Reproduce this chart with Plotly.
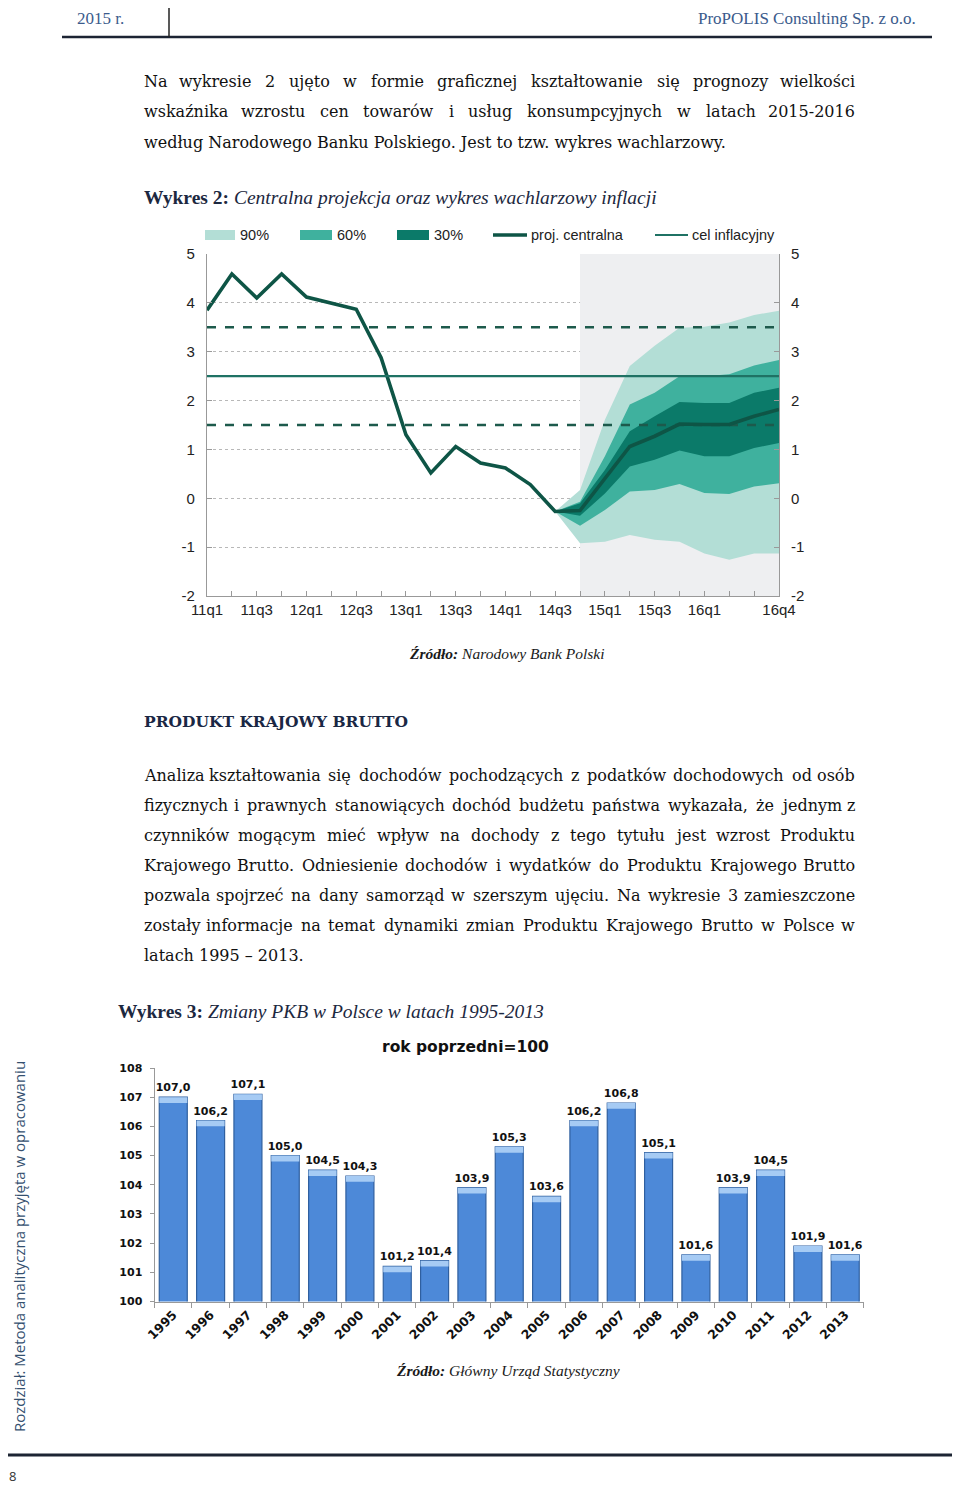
import plotly.graph_objects as go

W, H = 960, 1487
OFF = 8  # the page body margin shifts the figure; compensate


def px(x):
    return (x - OFF) / W


def py(y):
    return 1 - (y - OFF) / H


# ---------------- Data: fan chart (NBP inflation projection) ----------------
quarters = ["11q1", "11q2", "11q3", "11q4", "12q1", "12q2", "12q3", "12q4",
            "13q1", "13q2", "13q3", "13q4", "14q1", "14q2", "14q3", "14q4",
            "15q1", "15q2", "15q3", "15q4", "16q1", "16q2", "16q3", "16q4"]
fan_tick_labels = ["11q1", "11q3", "12q1", "12q3", "13q1", "13q3", "14q1",
                   "14q3", "15q1", "15q3", "16q1", "16q4"]
fan_y_ticks = [-2, -1, 0, 1, 2, 3, 4, 5]
central = [3.85, 4.59, 4.10, 4.59, 4.12, 3.99, 3.87, 2.88,
           1.30, 0.52, 1.06, 0.72, 0.62, 0.28, -0.27, -0.25,
           0.41, 1.06, 1.27, 1.52, 1.51, 1.51, 1.68, 1.82]
fan_start = "14q3"
proj_start = "14q4"
fan90_hi = [-0.27, 0.17, 1.61, 2.71, 3.12, 3.49, 3.51, 3.60, 3.75, 3.84]
fan90_lo = [-0.27, -0.92, -0.89, -0.75, -0.85, -0.89, -1.13, -1.26, -1.13, -1.13]
fan60_hi = [-0.27, -0.07, 0.86, 1.92, 2.16, 2.50, 2.50, 2.54, 2.72, 2.83]
fan60_lo = [-0.27, -0.56, -0.24, 0.14, 0.17, 0.29, 0.11, 0.09, 0.24, 0.31]
fan30_hi = [-0.27, -0.10, 0.58, 1.37, 1.68, 1.97, 1.95, 1.95, 2.16, 2.26]
fan30_lo = [-0.27, -0.36, 0.10, 0.65, 0.79, 0.98, 0.86, 0.86, 1.03, 1.13]
target = 2.5
tol_lo, tol_hi = 1.5, 3.5

# ---------------- Data: GDP bar chart ----------------
years = ["1995", "1996", "1997", "1998", "1999", "2000", "2001", "2002", "2003",
         "2004", "2005", "2006", "2007", "2008", "2009", "2010", "2011", "2012", "2013"]
gdp = [107.0, 106.2, 107.1, 105.0, 104.5, 104.3, 101.2, 101.4, 103.9,
       105.3, 103.6, 106.2, 106.8, 105.1, 101.6, 103.9, 104.5, 101.9, 101.6]

# ---------------- Colours ----------------
C90, C60, C30 = "#b3ded6", "#3fb19e", "#0b7a69"
C_CENTRAL = "#0e5546"
C_TARGET = "#1f7264"
C_DASH = "#1d5a4c"
C_PROJ_BG = "#eeeff1"
C_BAR = "#4d89d8"

fan_q = quarters[quarters.index(fan_start):]

fig = go.Figure()


def band(lo, hi, color):
    fig.add_trace(go.Scatter(x=fan_q, y=lo, mode="lines", line=dict(width=0, color=color),
                             hoverinfo="skip", xaxis="x", yaxis="y"))
    fig.add_trace(go.Scatter(x=fan_q, y=hi, mode="lines", line=dict(width=0, color=color),
                             fill="tonexty", fillcolor=color, hoverinfo="skip",
                             xaxis="x", yaxis="y"))


band(fan90_lo, fan90_hi, C90)
band(fan60_lo, fan60_hi, C60)
band(fan30_lo, fan30_hi, C30)

ends = [quarters[0], quarters[-1]]
for val in (tol_hi, tol_lo):
    fig.add_trace(go.Scatter(x=ends, y=[val, val], mode="lines",
                             line=dict(color=C_DASH, width=2.6, dash="dash"),
                             xaxis="x", yaxis="y"))
fig.add_trace(go.Scatter(x=ends, y=[target, target], mode="lines",
                         line=dict(color=C_TARGET, width=2.4), xaxis="x", yaxis="y2"))
fig.add_trace(go.Scatter(x=quarters, y=central, mode="lines",
                         line=dict(color=C_CENTRAL, width=3.6), xaxis="x", yaxis="y"))

# ---------------- Bars ----------------
fig.add_trace(go.Bar(x=years, y=gdp, marker=dict(color=C_BAR, line=dict(color="#2f5f9f", width=1.2)),
                     text=[f"{v:.1f}".replace(".", ",") for v in gdp], textposition="outside",
                     constraintext="none",
                     textfont=dict(family="DejaVu Sans", size=11, color="#111", weight="bold"),
                     cliponaxis=False, xaxis="x2", yaxis="y3"))
cap = 0.2
fig.add_trace(go.Bar(x=years, y=[cap] * len(gdp), base=[v - cap for v in gdp],
                     marker=dict(color="#a6cbf4", line=dict(width=0)),
                     hoverinfo="skip", xaxis="x2", yaxis="y3"))

tick_font = dict(family="Liberation Sans, Arial", size=15, color="#222")
ticktext = [q if q in fan_tick_labels else "" for q in quarters]
ytext = [str(v) for v in fan_y_ticks]

fig.update_layout(
    width=W, height=H, margin=dict(l=0, r=0, t=0, b=0, autoexpand=False),
    paper_bgcolor="white", plot_bgcolor="white", showlegend=False,
    barmode="overlay", bargap=0.25,
    xaxis=dict(domain=[px(207), px(779)], anchor="y", type="category",
               categoryorder="array", categoryarray=quarters,
               range=[0, len(quarters) - 1], tickmode="array", tickvals=quarters,
               ticktext=ticktext, ticks="inside", ticklen=5, tickcolor="#999",
               showline=True, linecolor="#999", linewidth=1.2, showgrid=False,
               tickfont=tick_font, tickangle=0),
    yaxis=dict(domain=[py(596), py(254)], anchor="x", range=[-2, 5],
               tickmode="array", tickvals=fan_y_ticks, ticktext=ytext,
               ticks="inside", ticklen=5, tickcolor="#999", showline=True,
               linecolor="#999", linewidth=1.2, showgrid=True, gridcolor="#b8b8b8",
               griddash="dot", gridwidth=1, zeroline=False, tickfont=tick_font,
               ticklabelstandoff=8),
    yaxis2=dict(overlaying="y", side="right", anchor="x", range=[-2, 5],
                tickmode="array", tickvals=fan_y_ticks, ticktext=ytext,
                ticks="inside", ticklen=5, tickcolor="#999", showline=True,
                linecolor="#999", linewidth=1.2, showgrid=False, zeroline=False,
                tickfont=tick_font, ticklabelstandoff=8),
    xaxis2=dict(domain=[px(154.6), px(863.9)], anchor="y3", type="category",
                tickangle=-45, ticks="outside", tickson="boundaries", ticklen=5,
                tickcolor="#999", showline=True, linecolor="#999", linewidth=1.2,
                tickfont=dict(family="DejaVu Sans", size=12.5, color="#111", weight="bold")),
    yaxis3=dict(domain=[py(1301.5), py(1068)], anchor="x2", range=[100, 108], dtick=1,
                ticks="outside", ticklen=4, tickcolor="#999", showline=True,
                linecolor="#999", linewidth=1.2, showgrid=False, zeroline=False,
                tickfont=dict(family="DejaVu Sans", size=11, color="#111", weight="bold"),
                ticklabelstandoff=5),
)

shapes = []
# projection background
shapes.append(dict(type="rect", xref="x", yref="y", layer="between",
                   x0=quarters.index(proj_start), x1=len(quarters) - 1, y0=-2, y1=5,
                   fillcolor=C_PROJ_BG, line=dict(width=0)))
# page rules
shapes.append(dict(type="line", xref="paper", yref="paper", x0=px(62), x1=px(932),
                   y0=py(37), y1=py(37), line=dict(color="#1c2433", width=2.5)))
shapes.append(dict(type="line", xref="paper", yref="paper", x0=px(169), x1=px(169),
                   y0=py(3), y1=py(37), line=dict(color="#222", width=1.5)))
shapes.append(dict(type="line", xref="paper", yref="paper", x0=px(5), x1=px(955),
                   y0=py(1455), y1=py(1455), line=dict(color="#1c2433", width=3)))

annotations = []
leg_font = dict(family="Liberation Sans, Arial", size=14.5, color="#222")
ly = 235
for x0, x1, col, lab in [(205, 235, C90, "90%"), (300, 332, C60, "60%"), (397, 429, C30, "30%")]:
    shapes.append(dict(type="rect", xref="paper", yref="paper", x0=px(x0), x1=px(x1),
                       y0=py(ly + 5), y1=py(ly - 5), fillcolor=col, line=dict(width=0)))
    annotations.append(dict(x=px(x1 + 3), y=py(ly), xref="paper", yref="paper", text=lab,
                            xanchor="left", yanchor="middle", showarrow=False, font=leg_font))
for x0, x1, col, wd, lab in [(493, 527, C_CENTRAL, 3.5, "proj. centralna"),
                             (655, 688, C_TARGET, 2.2, "cel inflacyjny")]:
    shapes.append(dict(type="line", xref="paper", yref="paper", x0=px(x0), x1=px(x1),
                       y0=py(ly), y1=py(ly), line=dict(color=col, width=wd)))
    annotations.append(dict(x=px(x1 + 2), y=py(ly), xref="paper", yref="paper", text=lab,
                            xanchor="left", yanchor="middle", showarrow=False, font=leg_font))


def ann(x, y, text, anchor="left", font=None, **kw):
    d = dict(x=px(x), y=py(y), xref="paper", yref="paper", text=text, xanchor=anchor,
             yanchor="middle", showarrow=False, font=font)
    d.update(kw)
    annotations.append(d)


# ---- approximate DejaVu Serif advance widths (em) for justification ----
WID = dict(zip("abcdefghijklmnopqrstuvwxyz",
               [.596, .640, .559, .640, .592, .370, .640, .644, .320, .310, .610, .320, .948,
                .644, .602, .640, .640, .478, .513, .402, .644, .565, .855, .564, .565, .523]))
WID.update(dict(zip("ABCDEFGHIJKLMNOPQRSTUVWXYZ",
                    [.722, .735, .720, .802, .729, .693, .794, .874, .408, .399, .757, .666, 1.0,
                     .848, .820, .702, .820, .770, .685, .698, .813, .722, 1.03, .717, .681, .682])))
for d in "0123456789":
    WID[d] = .636
WID.update({".": .318, ",": .318, "-": .338, "–": .5, ":": .337, " ": .318})
PL = {"ą": "a", "ć": "c", "ę": "e", "ł": "l", "ń": "n", "ó": "o", "ś": "s", "ź": "z", "ż": "z",
      "Ź": "Z", "Ż": "Z", "Ś": "S", "Ł": "L"}

BODY_FS = 16
body_font = dict(family="DejaVu Serif", size=BODY_FS, color="#111")


def est(word):
    return sum(WID.get(PL.get(c, c), .6) for c in word) * BODY_FS


def line(text, y, justify=True, x0=142, x1=857):
    words = text.split(" ")
    if not justify:
        ann(x0, y, text, "left", body_font)
        return
    ws = [est(w) for w in words]
    gap = max((x1 - x0 - sum(ws)) / (len(words) - 1), 0.25 * BODY_FS)
    x = x0
    for i, w in enumerate(words):
        if i == 0:
            ann(x0, y, w, "left", body_font)
        elif i == len(words) - 1:
            ann(x1, y, w, "right", body_font)
        else:
            ann(x + ws[i] / 2, y, w, "center", body_font)
        x += ws[i] + gap


para1 = ["Na wykresie 2 ujęto w formie graficznej kształtowanie się prognozy wielkości",
         "wskaźnika wzrostu cen towarów i usług konsumpcyjnych w latach 2015-2016",
         "według Narodowego Banku Polskiego. Jest to tzw. wykres wachlarzowy."]
for i, t in enumerate(para1):
    line(t, 82 + 30 * i, justify=i < len(para1) - 1)

para2 = ["Analiza kształtowania się dochodów pochodzących z podatków dochodowych od osób",
         "fizycznych i prawnych stanowiących dochód budżetu państwa wykazała, że jednym z",
         "czynników mogącym mieć wpływ na dochody z tego tytułu jest wzrost Produktu",
         "Krajowego Brutto. Odniesienie dochodów i wydatków do Produktu Krajowego Brutto",
         "pozwala spojrzeć na dany samorząd w szerszym ujęciu. Na wykresie 3 zamieszczone",
         "zostały informacje na temat dynamiki zmian Produktu Krajowego Brutto w Polsce w",
         "latach 1995 – 2013."]
for i, t in enumerate(para2):
    line(t, 775 + 30.15 * i, justify=i < len(para2) - 1)

hdr_font = dict(family="Liberation Serif", size=17, color="#3b5b8c")
ann(75, 18, "2015 r.", "left", hdr_font)
ann(918, 18, "ProPOLIS Consulting Sp. z o.o.", "right", hdr_font)

title_font = dict(family="Liberation Serif", size=19.5, color="#1c2840")
ann(142, 197, "<b>Wykres 2:</b> <i>Centralna projekcja oraz wykres wachlarzowy inflacji</i>",
    "left", title_font)
ann(116, 1011, "<b>Wykres 3:</b> <i>Zmiany PKB w Polsce w latach 1995-2013</i>",
    "left", title_font)

src_font = dict(family="Liberation Serif", size=15.5, color="#1a1a1a")
ann(506, 653, "<b><i>Źródło:</i></b><i> Narodowy Bank Polski</i>", "center", src_font)
ann(508, 1370, "<b><i>Źródło:</i></b><i> Główny Urząd Statystyczny</i>", "center", src_font)

ann(142, 721, "<b>PRODUKT KRAJOWY BRUTTO</b>", "left",
    dict(family="DejaVu Serif", size=15.5, color="#1a2744"))

ann(465, 1047, "<b>rok poprzedni=100</b>", "center",
    dict(family="DejaVu Sans", size=15.5, color="#111"))

ann(19, 1247, "Rozdział: Metoda analityczna przyjęta w opracowaniu", "center",
    dict(family="Open Sans", size=15, color="#34506f"), textangle=-90)
ann(12, 1476, "8", "center", dict(family="Open Sans", size=13, color="#333"))

fig.update_layout(shapes=shapes, annotations=annotations)
fig.write_html("out.html")
